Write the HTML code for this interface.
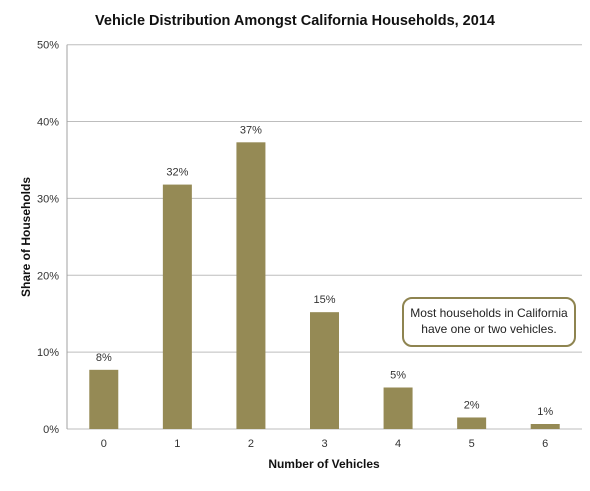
<!DOCTYPE html>
<html><head><meta charset="utf-8"><style>
body{margin:0;background:#fff;font-family:"Liberation Sans",sans-serif}
</style></head><body>
<svg id="chart" width="590" height="486" xmlns="http://www.w3.org/2000/svg" font-family="Liberation Sans, sans-serif"></svg>
<script>
const categories=["0","1","2","3","4","5","6"];
const shares=[7.7,31.8,37.3,15.2,5.4,1.5,0.65];
const valueLabels=["8%","32%","37%","15%","5%","2%","1%"];
const yTicks=[0,10,20,30,40,50];
const svg=document.getElementById('chart');
const NS="http://www.w3.org/2000/svg";
const L=67,R=582,T=44.7,B=429,maxY=50;
const y=v=>B-(v/maxY)*(B-T);
const step=(R-L)/categories.length;
const x=i=>L+step*(i+0.5);
const bw=29;
function el(t,a,txt){const e=document.createElementNS(NS,t);for(const k in a)e.setAttribute(k,a[k]);if(txt!=null)e.textContent=txt;svg.appendChild(e);return e;}
let e;
e=el('text',{x:295,y:25,'text-anchor':'middle','font-size':14.5,'font-weight':'bold',fill:'#111'},'Vehicle Distribution Amongst California Households,  2014');


yTicks.forEach(t=>{
 e=el('line',{x1:L,x2:R,y1:y(t),y2:y(t),stroke:'#bdbdbd','stroke-width':1});
 
 
 e=el('text',{x:L-8,y:y(t)+4,'text-anchor':'end','font-size':11,fill:'#333'},t+'%');
 
 
});
e=el('line',{x1:L,x2:L,y1:T,y2:B,stroke:'#a0a0a0'});


shares.forEach((v,i)=>{
 e=el('rect',{x:x(i)-bw/2,y:y(v),width:bw,height:B-y(v),fill:'#958a55'});
 
 
 e=el('text',{x:x(i),y:y(v)-9,'text-anchor':'middle','font-size':11,fill:'#333'},valueLabels[i]);
 
 
 e=el('text',{x:x(i),y:B+18,'text-anchor':'middle','font-size':11,fill:'#333'},categories[i]);
 
 
});
e=el('text',{x:324,y:468,'text-anchor':'middle','font-size':12,'font-weight':'bold',fill:'#111'},'Number of Vehicles');


e=el('text',{x:0,y:0,transform:'translate(30,237) rotate(-90)','text-anchor':'middle','font-size':12,'font-weight':'bold',fill:'#111'},'Share of Households');


e=el('rect',{x:403,y:298,width:172,height:48,rx:9,fill:'#fff',stroke:'#8e8450','stroke-width':2});


e=el('text',{x:489,y:317,'text-anchor':'middle','font-size':12,fill:'#222'},'Most households in California');


e=el('text',{x:489,y:333,'text-anchor':'middle','font-size':12,fill:'#222'},'have one or two vehicles.');


</script>
</body></html>
